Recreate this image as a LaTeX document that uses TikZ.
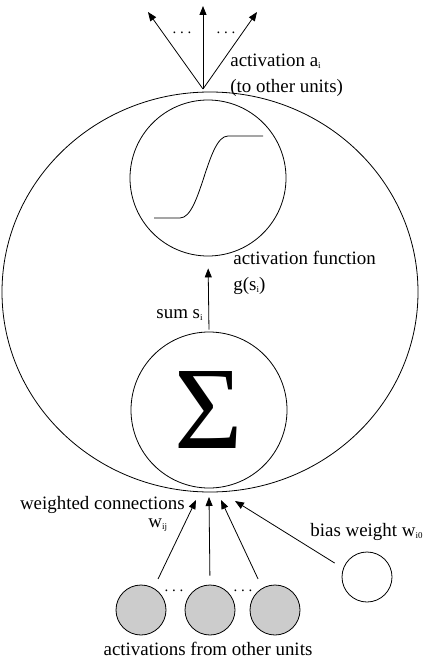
\documentclass[tikz,border=0pt]{standalone}
\usepackage{fontspec}
\setmainfont{Liberation Serif}
\usetikzlibrary{shapes.geometric,arrows.meta}
\newcommand{\lowidx}[1]{\raisebox{-2bp}{\fontsize{9}{9}\selectfont #1}}
\begin{document}
\begin{tikzpicture}[x=1bp,y=-1bp,line width=0.8bp,font=\fontsize{19}{25}\selectfont,
  inner/.style={circle,draw,minimum size=156bp,inner sep=0pt},
  unit/.style={circle,draw,minimum size=50bp,inner sep=0pt},
  link/.style={-{Triangle[length=9bp,width=7bp]}},
  txt/.style={inner sep=0pt},
  dotrow/.style={inner sep=0pt,anchor=base,font=\fontsize{15}{15}\selectfont}]
  \useasboundingbox (0,0) rectangle (422,660);
  % the unit
  \node[ellipse,draw,minimum width=416bp,minimum height=400bp] (cell) at (210,292) {};
  \node[inner] (act) at (208,178) {};
  \node[inner] (sum) at (209,410) {\fontsize{118}{118}\selectfont Σ};
  \draw (154,218) -- (180,218) .. controls (201,218) and (207,136) .. (228,136) -- (263,136);
  \draw[link,shorten <=2bp,shorten >=12bp] (sum.north) -- (act.south);
  % outgoing activation
  \coordinate (fan) at (203,89);
  \coordinate (outl) at (148,12);
  \coordinate (outc) at (203,6);
  \coordinate (outr) at (257,12);
  \draw[link] (fan) -- (outl);
  \draw[link] (fan) -- (outc);
  \draw[link] (fan) -- (outr);
  \node[dotrow] (dotl) at (182,34) {.~.~.};
  \node[dotrow] (dotr) at (226,34) {.~.~.};
  % incoming connections
  \node[unit,fill=black!20] (in1) at (141,610) {};
  \node[unit,fill=black!20] (in2) at (210,610) {};
  \node[unit,fill=black!20] (in3) at (275,610) {};
  \node[unit] (bias) at (367,577) {};
  \node[dotrow] (dotin1) at (174,591) {.~.~.};
  \node[dotrow] (dotin2) at (243,591) {.~.~.};
  \coordinate (w1) at (196,500);
  \coordinate (w2) at (209,497);
  \coordinate (w3) at (221,500);
  \coordinate (w4) at (235,501);
  \draw[link,shorten <=10bp] (in1.60) -- (w1);
  \draw[link,shorten <=9bp] (in2.north) -- (w2);
  \draw[link,shorten <=10bp] (in3.120) -- (w3);
  \draw[link,shorten <=10bp] (bias.160) -- (w4);
  % labels
  \node[txt,anchor=base west] (outtxt) at (230,67) {activation a\lowidx{i}};
  \node[txt,anchor=base west] (outtxt2) at (230,93) {(to other units)};
  \node[txt,anchor=base west] (acttxt) at (233,264) {activation function};
  \node[txt,anchor=base west] (acttxt2) at (233,290) {g(s\lowidx{i})};
  \node[txt,anchor=base east] (sumtxt) at (203,318) {sum s\lowidx{i}};
  \node[txt,anchor=base east] (wtxt) at (185,509) {weighted connections};
  \node[txt,anchor=base west] (wtxt2) at (148,527) {w\lowidx{ij}};
  \node[txt,anchor=base west] (biastxt) at (310,536) {bias weight w\lowidx{i0}};
  \node[txt,anchor=base] (intxt) at (208,655) {activations from other units};
\end{tikzpicture}
\end{document}
